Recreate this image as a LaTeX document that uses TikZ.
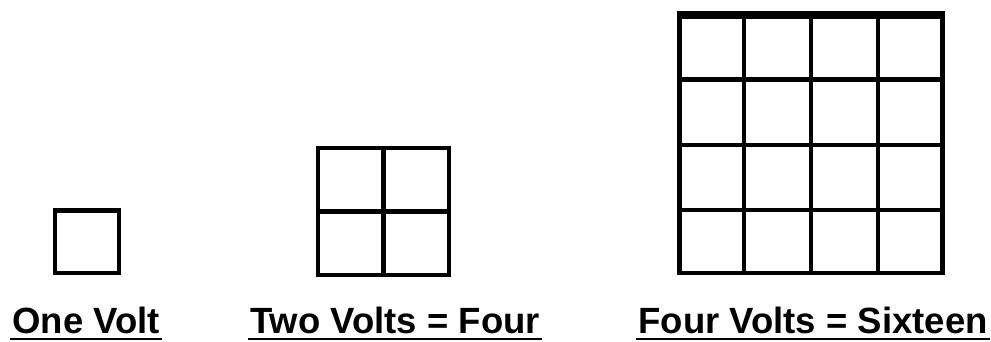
\documentclass[tikz,border=0pt]{standalone}
\usepackage{fontspec}
\setmainfont{Liberation Sans}
\usepackage{tikz}
\usetikzlibrary{positioning,calc}

\begin{document}
\begin{tikzpicture}[x=1pt, y=-1pt,
  marco/.style={draw=black, line width=4.5pt, inner sep=0pt, minimum width=#1, minimum height=#1},
  linea/.style={draw=black, line width=4.2pt},
  gruesa/.style={linea, line width=5.8pt},
  etq/.style={font=\fontsize{36.5}{40}\selectfont\bfseries, inner sep=0pt, anchor=base},
  raya/.style={draw=black, line width=2.8pt}
]
\useasboundingbox[fill=white] (0,0) rectangle (991,342);

% un voltio
\node[marco=64pt, minimum height=62.5pt] (uno) at (87,241.75) {};
\node[etq] (tuno) at (86,333) {One Volt};

% dos voltios
\node[marco=131pt, minimum height=127pt] (dos) at (383.5,211.5) {};
\draw[linea] (dos.north) -- (dos.south);
\draw[linea] (dos.west) -- (dos.east);
\node[etq] (tdos) at (395,333) {Two Volts = Four};

% cuatro voltios
\node[marco=263pt, minimum height=256.5pt] (cuatro) at (811,144.75) {};
\draw[gruesa] (cuatro.north west) -- (cuatro.north east);
\foreach \f in {0.25,0.5,0.75}
  \draw[linea] ($(cuatro.north west)!\f!(cuatro.north east)$) -- ($(cuatro.south west)!\f!(cuatro.south east)$);
\draw[gruesa] ($(cuatro.north west)!0.25!(cuatro.south west)$) -- ($(cuatro.north east)!0.25!(cuatro.south east)$);
\foreach \f in {0.5,0.75}
  \draw[linea] ($(cuatro.north west)!\f!(cuatro.south west)$) -- ($(cuatro.north east)!\f!(cuatro.south east)$);
\node[etq] (tcuatro) at (813,333) {Four Volts = Sixteen};

% subrayados
\foreach \t in {tuno,tdos,tcuatro}
  \draw[raya] ([xshift=-2pt,yshift=-6pt]\t.base west) -- ([xshift=2pt,yshift=-6pt]\t.base east);
\end{tikzpicture}
\end{document}
